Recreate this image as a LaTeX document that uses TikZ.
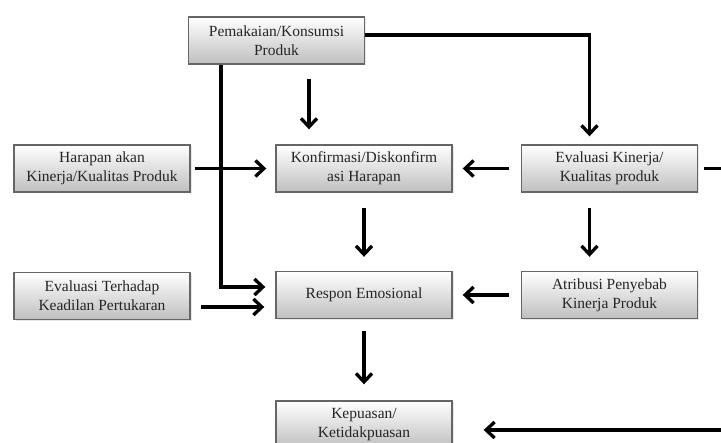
\documentclass[tikz,border=0pt]{standalone}
\usepackage{fontspec}
\setmainfont{Liberation Serif}
\usetikzlibrary{arrows.meta,shadows}

\tikzset{
  box/.style={draw=black!60, line width=1.4pt, top color=white, bottom color=black!25,
    minimum width=176pt, minimum height=47pt, align=center, inner sep=2pt,
    text=black!85, font=\fontsize{15.5}{19}\selectfont,
    drop shadow={opacity=0.18, shadow xshift=1.5pt, shadow yshift=-1.5pt}},
  arr/.style={line width=3.3pt, -{Straight Barb[length=8.5pt, width=16pt, line width=3.3pt]}}
}

\begin{document}
\begin{tikzpicture}[x=1pt, y=-1pt]
  \useasboundingbox (0,0) rectangle (721,443);
  \fill[white] (0,0) rectangle (721,443);
  \clip (0,0) rectangle (721,443);

  % boxes
  \node[box] (top)  at (276.5,40.5) {Pemakaian/Konsumsi\\Produk};
  \node[box] (har)  at (102,168.5)  {Harapan akan\\Kinerja/Kualitas Produk};
  \node[box] (konf) at (364,168.5)  {Konfirmasi/Diskonfirm\\asi Harapan};
  \node[box] (eval) at (609.5,168.5) {Evaluasi Kinerja/\\Kualitas produk};
  \node[box] (adil) at (102,296)    {Evaluasi Terhadap\\Keadilan Pertukaran};
  \node[box] (resp) at (364,295)    {Respon Emosional};
  \node[box] (atr)  at (609.5,295)  {Atribusi Penyebab\\Kinerja Produk};
  \node[box] (kep)  at (364,424.5)  {Kepuasan/\\Ketidakpuasan};

  % return path along the right edge
  \coordinate (rt) at (740,0);

  % connectors
  \draw[arr, shorten >=8pt]
    ([yshift=5.5pt]top.east) -| ([xshift=-20pt]eval.north);
  \draw[arr, shorten >=10pt]
    ([xshift=-55.5pt]top.south) |- ([yshift=8pt]resp.west);
  \draw[arr, shorten <=14pt, shorten >=15pt]
    ([xshift=32.5pt]top.south) -- ([xshift=32.5pt]top.south |- konf.north);
  \draw[arr, shorten <=4pt, shorten >=9pt] (har.east) -- (konf.west);
  \draw[arr, shorten <=11.5pt, shorten >=10pt] (eval.west) -- (konf.west -| konf.east);
  \draw[arr, shorten <=15pt, shorten >=14pt] (konf.south) -- (resp.north);
  \draw[arr, shorten <=15pt, shorten >=14pt]
    ([xshift=-20pt]eval.south) -- ([xshift=-20pt]atr.north);
  \draw[arr, shorten <=10pt, shorten >=11pt]
    ([yshift=-11pt]adil.east) -- ([yshift=-11pt]adil.east -| resp.west);
  \draw[arr, shorten <=12pt, shorten >=10pt] (atr.west) -- (resp.east);
  \draw[arr, shorten <=12pt, shorten >=16pt] (resp.south) -- (kep.north);
  \draw[arr, shorten >=31pt]
    ([xshift=6pt]eval.east) -- (eval.east -| rt) |- ([yshift=-5.5pt]kep.east);
\end{tikzpicture}
\end{document}
